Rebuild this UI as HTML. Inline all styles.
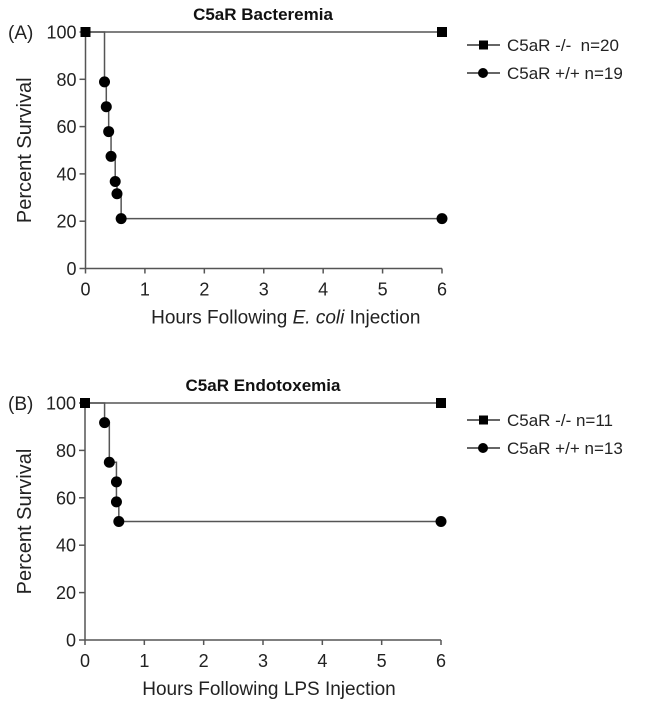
<!DOCTYPE html>
<html><head><meta charset="utf-8"><style>
body{margin:0;background:#fff;}
svg{font-family:"Liberation Sans",Arial,sans-serif;display:block}
</style></head><body>
<svg id="c" width="649" height="707"></svg>
<script>
const ticksX=[0,1,2,3,4,5,6];
const ticksY=[0,20,40,60,80,100];
const aKoHours=[0,6];
const aKoSurv=[100,100];
const aWtHours=[0.32,0.35,0.39,0.43,0.5,0.53,0.6,6];
const aWtSurv=[78.9,68.4,57.9,47.4,36.8,31.6,21.1,21.1];
const bKoHours=[0,6];
const bKoSurv=[100,100];
const bWtHours=[0.33,0.41,0.53,0.53,0.57,6];
const bWtSurv=[91.7,75,66.7,58.3,50,50];
const legendA=["C5aR -/-  n=20","C5aR +/+ n=19"];
const legendB=["C5aR -/- n=11","C5aR +/+ n=13"];
const NS="http://www.w3.org/2000/svg";
const svg=document.getElementById('c');
function mk(t,a,p){const e=document.createElementNS(NS,t);for(const k in a)e.setAttribute(k,a[k]);(p||svg).appendChild(e);return e;}
function panel(o){
 const g=mk('g',{});
 
 
 const X=h=>o.x0+h*(o.x6-o.x0)/6, Y=v=>o.y0+(o.y100-o.y0)*v/100;
 const ax=mk('path',{d:`M${X(0)},${Y(0)}H${X(6)}M${X(0)},${Y(0)}V${Y(100)}`,stroke:'#555','stroke-width':1.5,fill:'none'},g);
 
 ticksX.forEach(t=>{
  mk('line',{x1:X(t),x2:X(t),y1:Y(0),y2:Y(0)+5,stroke:'#555','stroke-width':1.5},g);
  const tx=mk('text',{x:X(t),y:Y(0)+27,'font-size':18,'text-anchor':'middle',fill:'#222'},g);tx.textContent=t;
  
 });
 ticksY.forEach(t=>{
  mk('line',{x1:X(0)-6,x2:X(0),y1:Y(t),y2:Y(t),stroke:'#555','stroke-width':1.5},g);
  const tx=mk('text',{x:X(0)-9,y:Y(t)+6.5,'font-size':18,'text-anchor':'end',fill:'#222'},g);tx.textContent=t;
  
 });
 const yt=mk('text',{x:0,y:0,'font-size':20,'text-anchor':'middle',fill:'#222',transform:`translate(31,${(Y(0)+Y(100))/2}) rotate(-90)`},g);
 yt.textContent='Percent Survival';
 const xt=mk('text',{x:X(3)+o.xtShift,y:Y(0)+55,'font-size':19,'text-anchor':'middle',fill:'#222'},g);
 xt.innerHTML=o.xtitle;
 const ti=mk('text',{x:263,y:o.y100-12,'font-size':17,'font-weight':'bold','text-anchor':'middle',fill:'#111'},g);
 ti.textContent=o.title;
 const lb=mk('text',{x:8,y:Y(100)+7,'font-size':19,fill:'#222'},g);
 lb.textContent=o.label;
 let d=`M${X(o.koH[0])},${Y(o.koS[0])}`;for(let i=1;i<o.koH.length;i++)d+=`H${X(o.koH[i])}V${Y(o.koS[i])}`;
 const kl=mk('path',{d,stroke:'#555','stroke-width':1.5,fill:'none'},g);
 d=`M${X(0)},${Y(100)}`;for(let i=0;i<o.wtH.length;i++)d+=`H${X(o.wtH[i])}V${Y(o.wtS[i])}`;
 const wl=mk('path',{d,stroke:'#555','stroke-width':1.5,fill:'none'},g);
 o.koH.forEach((h,i)=>{const r=mk('rect',{x:X(h)-5,y:Y(o.koS[i])-5,width:10,height:10,fill:'#000'},g);
  });
 o.wtH.forEach((h,i)=>{const c=mk('circle',{cx:X(h),cy:Y(o.wtS[i]),r:5.5,fill:'#000'},g);
  });
 o.leg.forEach((t,i)=>{const ly=o.legY+i*28;
  const lg=mk('g',{},g);
  mk('line',{x1:467,x2:500,y1:ly,y2:ly,stroke:'#333','stroke-width':1.5},lg);
  if(i==0)mk('rect',{x:479,y:ly-4.5,width:9,height:9,fill:'#000'},lg);else mk('circle',{cx:483,cy:ly,r:5,fill:'#000'},lg);
  const tx=mk('text',{x:507,y:ly+6,'font-size':17,fill:'#222'},lg);tx.textContent=t;tx.style.whiteSpace='pre';
 });
}
panel({name:'panel-a-bacteremia',x0:85.5,x6:442,y0:268.5,y100:32,xtShift:22,xtitle:'Hours Following <tspan font-style="italic">E. coli</tspan> Injection',title:'C5aR Bacteremia',label:'(A)',koH:aKoHours,koS:aKoSurv,wtH:aWtHours,wtS:aWtSurv,leg:legendA,legY:45});
panel({name:'panel-b-endotoxemia',x0:85,x6:441,y0:640,y100:403,xtShift:6,xtitle:'Hours Following LPS Injection',title:'C5aR Endotoxemia',label:'(B)',koH:bKoHours,koS:bKoSurv,wtH:bWtHours,wtS:bWtSurv,leg:legendB,legY:420});
</script>
</body></html>
